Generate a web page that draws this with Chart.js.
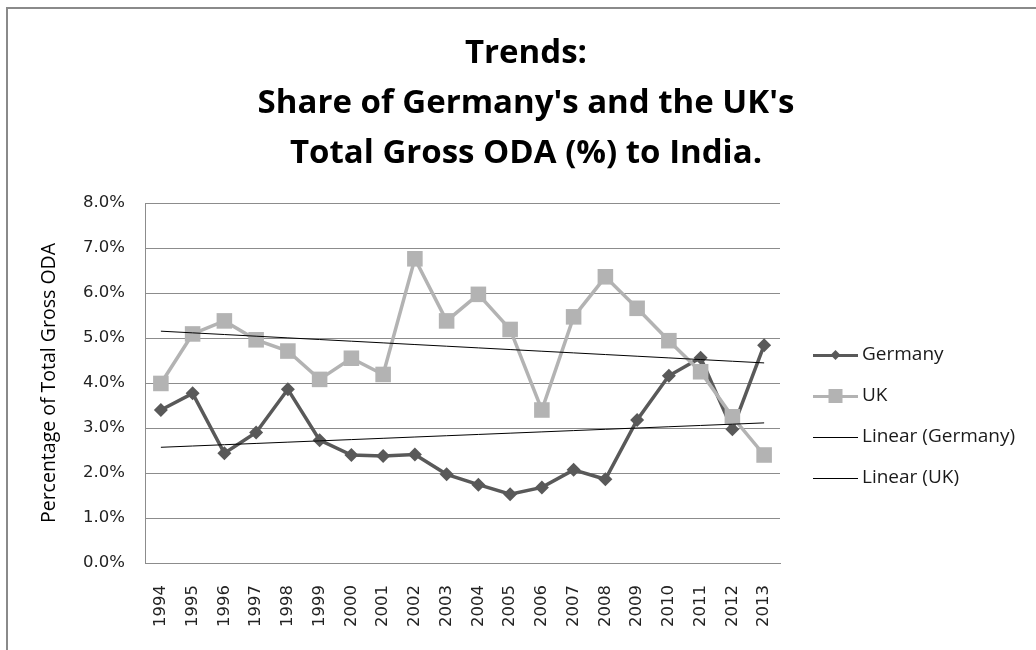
<!DOCTYPE html>
<html>
<head>
<meta charset="utf-8">
<script src="https://cdn.jsdelivr.net/npm/chart.js@4.4.1/dist/chart.umd.min.js"></script>
<style>
html,body{margin:0;padding:0;background:#fff;overflow:hidden}
#wrap{position:relative;width:1036px;height:650px}
</style>
</head>
<body>
<div id="wrap"><canvas id="c" width="1036" height="650"></canvas></div>
<script>
// ---- data (values in percent) ----
const years = ['1994','1995','1996','1997','1998','1999','2000','2001','2002','2003',
               '2004','2005','2006','2007','2008','2009','2010','2011','2012','2013'];
const germany = [3.40,3.77,2.44,2.90,3.86,2.73,2.40,2.38,2.41,1.97,
                 1.74,1.53,1.68,2.07,1.86,3.18,4.16,4.56,2.97,4.84];
const uk = [3.99,5.09,5.38,4.96,4.71,4.08,4.55,4.19,6.76,5.38,
            5.97,5.19,3.40,5.47,6.36,5.66,4.94,4.25,3.25,2.40];
const yTickValues = [0,1,2,3,4,5,6,7,8];
const titleLines = ["Trends:", "Share of Germany's and the UK's", "Total Gross ODA (%) to India."];
const yAxisTitle = 'Percentage of Total Gross ODA';
const legendLabels = ['Germany','UK','Linear (Germany)','Linear (UK)'];

// least-squares linear trend (as Excel's "Linear" trendline)
function linearTrend(vals){
  const n = vals.length;
  let sx=0, sy=0, sxy=0, sxx=0;
  vals.forEach((v,i)=>{ sx+=i; sy+=v; sxy+=i*v; sxx+=i*i; });
  const b = (n*sxy - sx*sy)/(n*sxx - sx*sx);
  const a = (sy - b*sx)/n;
  return vals.map((v,i)=>a+b*i);
}
const germanyTrend = linearTrend(germany);
const ukTrend = linearTrend(uk);

const GER_COLOR = '#595959';
const UK_COLOR = '#b3b3b3';
const AXIS_COLOR = '#8c8c8c';

const bgBorder = {
  id:'bgBorder',
  beforeDraw(chart){
    const ctx = chart.ctx;
    ctx.save();
    ctx.fillStyle = '#fff';
    ctx.fillRect(0,0,chart.width,chart.height);
    ctx.strokeStyle = '#8a8a8a';
    ctx.lineWidth = 2;
    ctx.beginPath();
    ctx.moveTo(7, chart.height);
    ctx.lineTo(7, 8);
    ctx.lineTo(chart.width, 8);
    ctx.stroke();
    ctx.restore();
  }
};

const chartTitle = {
  id:'chartTitle',
  afterDraw(chart){
    const ctx = chart.ctx;
    const baselines = [63, 113, 163];
    ctx.save();
    ctx.font = 'bold 33px "Open Sans"';
    ctx.fillStyle = '#000';
    ctx.textAlign = 'center';
    ctx.textBaseline = 'alphabetic';
    titleLines.forEach((t,i)=> ctx.fillText(t, 526, baselines[i]));
    ctx.restore();
  }
};

const customLegend = {
  id:'customLegend',
  afterDraw(chart){
    const ctx = chart.ctx;
    const x0 = 813, x1 = 858, tx = 862;
    const ys = [355, 396, 437, 478];
    ctx.save();
    ctx.font = '19px "Open Sans"';
    ctx.textBaseline = 'middle';
    ctx.textAlign = 'left';
    legendLabels.forEach((lab,i)=>{
      const y = ys[i];
      const cx = (x0+x1)/2;
      ctx.beginPath();
      if (i===0){ ctx.strokeStyle = GER_COLOR; ctx.lineWidth = 3; }
      else if (i===1){ ctx.strokeStyle = UK_COLOR; ctx.lineWidth = 3; }
      else { ctx.strokeStyle = '#000'; ctx.lineWidth = 1; }
      ctx.moveTo(x0, y+0.5); ctx.lineTo(x1, y+0.5); ctx.stroke();
      if (i===0){
        ctx.fillStyle = GER_COLOR;
        ctx.beginPath();
        ctx.moveTo(cx-5, y); ctx.lineTo(cx, y-5); ctx.lineTo(cx+5, y); ctx.lineTo(cx, y+5);
        ctx.closePath(); ctx.fill();
      } else if (i===1){
        ctx.fillStyle = UK_COLOR;
        ctx.fillRect(cx-7, y-7, 14, 14);
      }
      ctx.fillStyle = '#1a1a1a';
      ctx.fillText(lab, tx, y);
    });
    ctx.restore();
  }
};

new Chart(document.getElementById('c'), {
  type: 'line',
  data: {
    labels: years,
    datasets: [
      { label: legendLabels[2], data: germanyTrend, borderColor:'#000', borderWidth:1,
        pointRadius:0, fill:false, order:0 },
      { label: legendLabels[3], data: ukTrend, borderColor:'#000', borderWidth:1,
        pointRadius:0, fill:false, order:0 },
      { label: legendLabels[1], data: uk, borderColor: UK_COLOR, backgroundColor: UK_COLOR,
        borderWidth:3.5, pointStyle:'rect', pointRadius:11, pointBorderWidth:0,
        pointBackgroundColor: UK_COLOR, order:1 },
      { label: legendLabels[0], data: germany, borderColor: GER_COLOR, backgroundColor: GER_COLOR,
        borderWidth:3.5, pointStyle:'rectRot', pointRadius:7, pointBorderWidth:0,
        pointBackgroundColor: GER_COLOR, order:2 }
    ]
  },
  options: {
    responsive:false,
    devicePixelRatio:1,
    animation:false,
    events:[],
    elements:{ line:{ tension:0 } },
    layout:{ padding:{ left:16, right:256, top:203, bottom:0 } },
    plugins:{
      legend:{ display:false },
      tooltip:{ enabled:false },
      title:{ display:false }
    },
    scales:{
      x:{
        type:'category',
        offset:true,
        grid:{ display:false, drawTicks:false },
        border:{ display:true, color:AXIS_COLOR, width:1 },
        ticks:{ minRotation:90, maxRotation:90, autoSkip:false, padding:22,
                color:'#222', font:{ family:'"DejaVu Sans"', size:16.5 } },
        afterFit(s){ s.height = 87; }
      },
      y:{
        min:0, max:8,
        grid:{ color:AXIS_COLOR, lineWidth:1, drawTicks:false },
        border:{ display:true, color:AXIS_COLOR, width:1 },
        afterBuildTicks(s){ s.ticks = yTickValues.map(v=>({value:v})); },
        ticks:{ padding:20, color:'#222', font:{ family:'"DejaVu Sans"', size:16.5 },
                callback:(v)=> Number(v).toFixed(1)+'%' },
        title:{ display:true, text:yAxisTitle, color:'#000',
                font:{ family:'"Open Sans"', size:19.5 }, padding:{ top:22, bottom:0 } },
        afterFit(s){ s.width = 129; }
      }
    }
  },
  plugins:[bgBorder, chartTitle, customLegend]
});
</script>
</body>
</html>
